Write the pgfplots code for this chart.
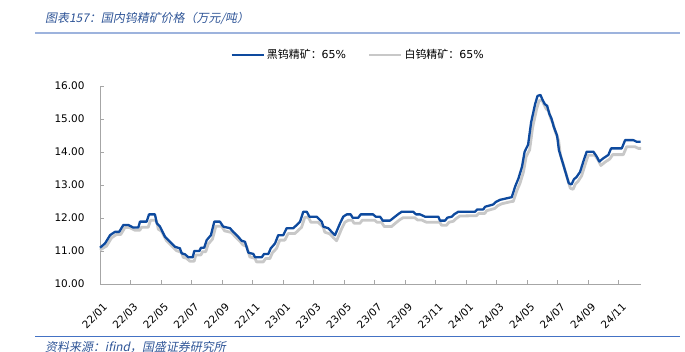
\documentclass[border=0pt]{standalone}
\usepackage{pgfplots}
\pgfplotsset{compat=1.18}
\usepackage{fontspec}
\setmainfont{DejaVu Sans}
\newfontfamily\cjk{Noto Sans CJK SC}
\newfontfamily\cjkit[FakeSlant=0.2]{Noto Sans CJK SC}
\definecolor{bluew}{HTML}{0E4A9E}
\definecolor{grayw}{HTML}{C8C8C8}
\definecolor{titleblue}{HTML}{2F5597}
\definecolor{topline}{HTML}{9DB3DD}
\definecolor{botline}{HTML}{4472C4}
\definecolor{axgray}{HTML}{A6A6A6}
\tikzset{xlab/.style={rotate=45, anchor=east, inner sep=0pt, font=\fontsize{10.5}{12}\selectfont, xshift=-11bp, yshift=-19bp}}
\begin{document}
\begin{tikzpicture}
\path[use as bounding box] (0,0) rectangle (685bp,352bp);
\node[anchor=west, text=titleblue, font=\cjkit\fontsize{12}{14}\selectfont, inner sep=0] at (45bp,334bp) {图表157：国内钨精矿价格（万元/吨）};
\draw[topline, line width=1.5bp] (35bp,319bp) -- (680bp,319bp);
\draw[botline, line width=1bp] (35bp,15bp) -- (680bp,15bp);
\node[anchor=west, text=titleblue, font=\cjkit\fontsize{12}{14}\selectfont, inner sep=0] at (45bp,5bp) {资料来源：ifind，国盛证券研究所};
\begin{axis}[
  at={(100bp,68bp)}, anchor=south west,
  scale only axis, width=541bp, height=198bp,
  xmin=0, xmax=35.45, ymin=10, ymax=16,
  axis lines*=left,
  axis line style={axgray, line width=0.8bp},
  tick style={axgray, line width=0.8bp},
  tick align=inside, major tick length=4bp,
  xtick={0,2,4,6,8,10,12,14,16,18,20,22,24,26,28,30,32,34},
  xticklabels={},
  ytick={10,11,12,13,14,15,16},
  y tick label style={font=\fontsize{10.5}{12}\selectfont, xshift=-12bp},
  yticklabel={\pgfmathprintnumber[fixed, fixed zerofill, precision=2]{\tick}},
  /pgf/number format/assume math mode=true,
  clip=false,
  legend style={at={(0.477,1.157)}, anchor=center, draw=none, fill=none,
    font=\fontsize{11}{13}\selectfont, legend columns=2,
    /tikz/every even column/.append style={column sep=20bp}},
  legend image code/.code={\draw[#1] (0bp,0bp) -- (32bp,0bp);},
  legend cell align=left,
]
\addlegendimage{bluew, line width=2.5bp}
\addlegendentry{{\cjk 黑钨精矿：}65\%}
\addlegendimage{grayw, line width=2.5bp}
\addlegendentry{{\cjk 白钨精矿：}65\%}
\addplot[grayw, line width=2.8bp, line join=round, forget plot] coordinates {
(0.0,11.03) (0.43,11.15) (0.76,11.40) (1.08,11.50) (1.36,11.50) (1.63,11.71) (1.95,11.71) (2.28,11.63) (2.61,11.63) (2.72,11.72) (3.16,11.72) (3.31,11.93) (3.70,11.93) (3.82,11.66) (4.03,11.60) (4.36,11.31) (4.69,11.16) (5.01,11.01) (5.34,10.96) (5.45,10.81) (5.67,10.78) (5.89,10.69) (6.17,10.69) (6.28,10.88) (6.61,10.88) (6.72,10.98) (6.93,10.98) (7.09,11.21) (7.37,11.36) (7.59,11.75) (7.96,11.75) (8.17,11.61) (8.62,11.56) (8.83,11.45) (9.16,11.30) (9.38,11.18) (9.60,11.15) (9.82,10.82) (10.15,10.78) (10.26,10.67) (10.70,10.67) (10.85,10.77) (11.13,10.77) (11.29,10.94) (11.57,11.08) (11.78,11.33) (12.11,11.33) (12.33,11.53) (12.77,11.53) (13.21,11.72) (13.42,12.02) (13.65,12.02) (13.82,11.87) (14.30,11.87) (14.63,11.72) (14.73,11.57) (15.06,11.52) (15.28,11.41) (15.50,11.31) (15.83,11.67) (16.04,11.87) (16.27,11.93) (16.53,11.93) (16.65,11.84) (17.03,11.84) (17.18,11.93) (18.00,11.93) (18.16,11.87) (18.45,11.87) (18.63,11.74) (19.10,11.74) (19.43,11.87) (19.65,11.95) (19.87,12.01) (20.62,12.01) (20.81,11.94) (21.07,11.94) (21.40,11.87) (22.27,11.87) (22.38,11.78) (22.71,11.78) (22.86,11.87) (23.15,11.90) (23.30,11.97) (23.58,12.06) (24.67,12.07) (24.82,12.14) (25.22,12.14) (25.33,12.22) (25.87,12.29) (26.05,12.37) (26.31,12.43) (26.97,12.50) (27.08,12.50) (27.30,12.81) (27.52,13.05) (27.75,13.40) (27.92,13.85) (28.03,13.96) (28.15,14.06) (28.35,14.75) (28.61,15.30) (28.77,15.55) (28.96,15.58) (29.10,15.43) (29.25,15.30) (29.40,15.25) (29.53,15.02) (29.68,14.87) (29.83,14.62) (30.05,14.35) (30.17,13.91) (30.50,13.40) (30.82,12.90) (31.00,12.87) (31.15,13.03) (31.34,13.12) (31.56,13.28) (31.77,13.59) (31.99,13.90) (32.43,13.90) (32.65,13.75) (32.82,13.59) (33.08,13.69) (33.41,13.79) (33.59,13.92) (34.29,13.92) (34.51,14.16) (35.05,14.16) (35.27,14.11) (35.45,14.11)
};
\addplot[bluew, line width=2.3bp, line join=round, forget plot] coordinates {
(0,11.10) (0.33,11.23) (0.66,11.48) (0.98,11.58) (1.26,11.58) (1.53,11.79) (1.85,11.79) (2.18,11.71) (2.51,11.71) (2.62,11.89) (3.06,11.89) (3.21,12.11) (3.60,12.11) (3.72,11.84) (3.93,11.74) (4.26,11.43) (4.59,11.28) (4.91,11.13) (5.24,11.08) (5.35,10.93) (5.57,10.90) (5.79,10.81) (6.07,10.81) (6.18,11.00) (6.51,11.00) (6.62,11.10) (6.83,11.10) (6.99,11.33) (7.27,11.48) (7.49,11.89) (7.86,11.89) (8.07,11.74) (8.52,11.69) (8.73,11.58) (9.06,11.43) (9.28,11.31) (9.50,11.28) (9.72,10.95) (10.05,10.91) (10.16,10.81) (10.60,10.81) (10.75,10.91) (11.03,10.91) (11.19,11.08) (11.47,11.23) (11.68,11.48) (12.01,11.48) (12.23,11.69) (12.67,11.69) (13.11,11.89) (13.32,12.19) (13.55,12.19) (13.72,12.04) (14.20,12.04) (14.53,11.89) (14.63,11.74) (14.96,11.69) (15.18,11.58) (15.40,11.48) (15.73,11.84) (15.94,12.04) (16.17,12.11) (16.43,12.11) (16.55,12.01) (16.93,12.01) (17.08,12.11) (17.90,12.11) (18.06,12.04) (18.35,12.04) (18.53,11.92) (19.00,11.92) (19.33,12.04) (19.55,12.12) (19.77,12.19) (20.52,12.19) (20.71,12.11) (20.97,12.11) (21.30,12.04) (22.17,12.04) (22.28,11.92) (22.61,11.92) (22.76,12.01) (23.05,12.04) (23.20,12.11) (23.48,12.19) (24.57,12.19) (24.72,12.26) (25.12,12.26) (25.23,12.34) (25.77,12.41) (25.95,12.49) (26.21,12.55) (26.87,12.62) (26.98,12.63) (27.20,12.95) (27.42,13.20) (27.65,13.55) (27.82,14.00) (27.93,14.11) (28.05,14.22) (28.25,14.90) (28.51,15.45) (28.67,15.70) (28.86,15.73) (29.00,15.58) (29.15,15.45) (29.30,15.40) (29.43,15.17) (29.58,15.02) (29.73,14.77) (29.95,14.50) (30.07,14.06) (30.40,13.55) (30.72,13.05) (30.90,13.02) (31.05,13.17) (31.24,13.25) (31.46,13.40) (31.67,13.71) (31.89,14.01) (32.33,14.01) (32.55,13.86) (32.72,13.71) (32.98,13.81) (33.31,13.91) (33.49,14.11) (34.19,14.11) (34.41,14.36) (34.95,14.36) (35.17,14.31) (35.43,14.31)
};
\node[xlab] at (axis cs:0,10) {22/01};
\node[xlab] at (axis cs:2,10) {22/03};
\node[xlab] at (axis cs:4,10) {22/05};
\node[xlab] at (axis cs:6,10) {22/07};
\node[xlab] at (axis cs:8,10) {22/09};
\node[xlab] at (axis cs:10,10) {22/11};
\node[xlab] at (axis cs:12,10) {23/01};
\node[xlab] at (axis cs:14,10) {23/03};
\node[xlab] at (axis cs:16,10) {23/05};
\node[xlab] at (axis cs:18,10) {23/07};
\node[xlab] at (axis cs:20,10) {23/09};
\node[xlab] at (axis cs:22,10) {23/11};
\node[xlab] at (axis cs:24,10) {24/01};
\node[xlab] at (axis cs:26,10) {24/03};
\node[xlab] at (axis cs:28,10) {24/05};
\node[xlab] at (axis cs:30,10) {24/07};
\node[xlab] at (axis cs:32,10) {24/09};
\node[xlab] at (axis cs:34,10) {24/11};
\end{axis}
\end{tikzpicture}
\end{document}
